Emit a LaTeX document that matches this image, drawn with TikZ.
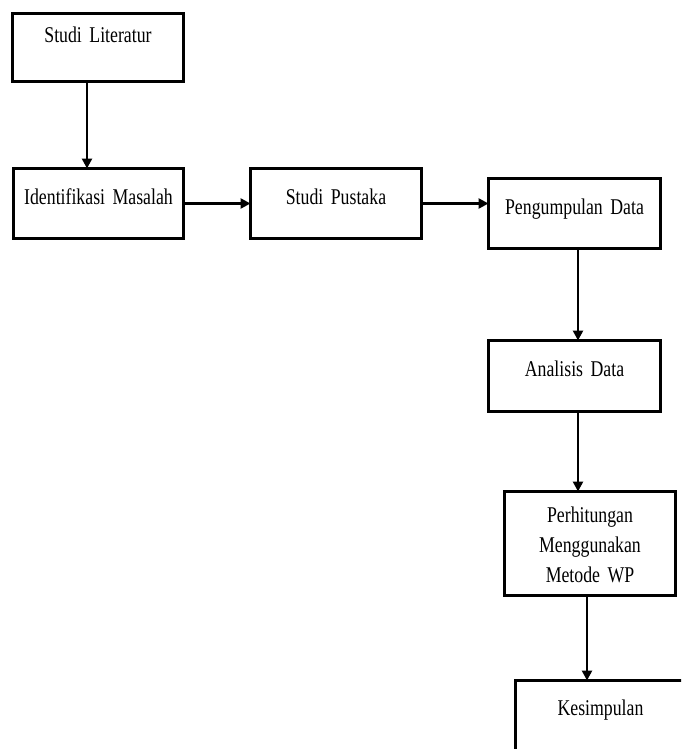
\documentclass[tikz,border=0pt]{standalone}
\usepackage{fontspec}
\newfontfamily\boxfam{Liberation Serif}[FakeStretch=0.79]
\usetikzlibrary{arrows.meta}
\newcommand{\boxfont}{\boxfam\fontsize{22.5}{30}\selectfont\spaceskip=2.8pt\relax\xspaceskip=2.8pt\relax}
\begin{document}
\begin{tikzpicture}[x=1pt,y=-1pt,
  box/.style={draw, line width=3pt, inner sep=0pt, outer sep=0pt, anchor=north west,
    font=\boxfont, align=center},
  arr/.style={line width=2.5pt, -{Triangle[length=10pt,width=10pt]}}]
\useasboundingbox (0,0) rectangle (681,749);
\clip (0,0) rectangle (681,749);

\node[box, text width=171pt, text height=29pt, text depth=39pt] (lit) at (12.5,13.5) {Studi Literatur};
\node[box, text width=170pt, text height=36pt, text depth=34pt] (ident) at (13.5,168.5) {Identifikasi Masalah};
\node[box, text width=171pt, text height=36pt, text depth=34pt] (pust) at (250.5,168.5) {Studi Pustaka};
\node[box, text width=172pt, text height=36pt, text depth=34pt] (peng) at (488.5,178.5) {Pengumpulan Data};
\node[box, text width=172pt, text height=36pt, text depth=35pt] (anal) at (488.5,340.5) {Analisis Data};
\node[box, text width=171pt, text height=31pt, text depth=73pt] (perh) at (504.5,491.5) {Perhitungan\\Menggunakan\\Metode WP};
\node[box, text width=170pt, text height=35pt, text depth=65pt] (kes) at (515.5,680.5) {Kesimpulan};

\draw[arr] ([xshift=-11pt]lit.south) -- ([xshift=-11pt]lit.south |- ident.north);
\draw[arr] (ident.east) -- (pust.west);
\draw[arr] (pust.east) -- (pust.east -| peng.west);
\draw[arr] ([xshift=3.5pt]peng.south) -- ([xshift=3.5pt]peng.south |- anal.north);
\draw[arr] ([xshift=3.5pt]anal.south) -- ([xshift=3.5pt]anal.south |- perh.north);
\draw[arr] ([xshift=-3pt]perh.south) -- ([xshift=-3pt]perh.south |- kes.north);
\end{tikzpicture}
\end{document}
